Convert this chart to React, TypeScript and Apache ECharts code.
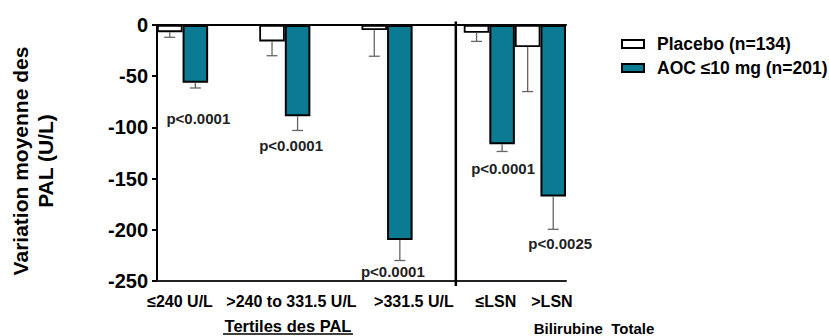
import React, { useEffect, useRef } from "react";
import * as echarts from "echarts";

// ---- data ----
const groups = ["≤240 U/L", ">240 to 331.5 U/L", ">331.5 U/L", "≤LSN", ">LSN"];
const placeboMean = [-7, -16, -5, -7.5, -21.5];
const placeboErrEnd = [-12, -30, -30.5, -16, -65];
const aocMean = [-56.5, -89, -210, -116.5, -167.5];
const aocErrEnd = [-61.5, -103, -230, -123.5, -199.5];
const pValues = ["p<0.0001", "p<0.0001", "p<0.0001", "p<0.0001", "p<0.0025"];
const seriesNames = ["Placebo (n=134)", "AOC ≤10 mg (n=201)"];
const yTicks = { min: -250, max: 0, interval: 50 };

// ---- layout (slot positions on a 16-slot category axis) ----
const SLOTS = 16;
const placeboSlot = [0, 4, 8, 12, 14];
const aocSlot = [1, 5, 9, 13, 15];
const labelPos = [0.9, 5.26, 10.05, 13.26, 15.45];
const dividerPos = 11.69;
const pOffset = [
  [3, 31],
  [-6.5, 15],
  [-7, 10.5],
  [1, 17],
  [7, 14],
];

const FONT = "'Liberation Sans', Arial, sans-serif";
const TEAL = "#0B7B94";

export default function App() {
  const ref = useRef<HTMLDivElement>(null);

  useEffect(() => {
    document.body.style.margin = "0";
    if (!ref.current) return;
    const chart = echarts.init(ref.current, undefined, { renderer: "svg" });

    const slotNames = Array.from({ length: SLOTS }, (_, i) => String(i));
    const placeboData: any[] = slotNames.map(() => "-");
    const aocData: any[] = slotNames.map(() => "-");
    placeboSlot.forEach((s, i) => (placeboData[s] = placeboMean[i]));
    aocSlot.forEach((s, i) => (aocData[s] = aocMean[i]));

    const errData: any[] = [];
    placeboSlot.forEach((s, i) => errData.push([s, placeboMean[i], placeboErrEnd[i], -1]));
    aocSlot.forEach((s, i) => errData.push([s, aocMean[i], aocErrEnd[i], i]));

    const option: any = {
      animation: false,
      grid: { left: 157, top: 25, width: 409, height: 256, containLabel: false },
      legend: {
        orient: "vertical",
        left: 616,
        top: 30,
        icon: "rect",
        itemWidth: 22,
        itemHeight: 8,
        itemGap: 6,
        data: seriesNames,
        textStyle: {
          fontFamily: FONT,
          fontWeight: "bold",
          fontSize: 17.5,
          color: "#000",
          padding: [0, 0, 0, 8],
        },
      },
      xAxis: [
        {
          type: "category",
          data: slotNames,
          position: "bottom",
          axisLine: { onZero: false, lineStyle: { color: "#222", width: 2 } },
          axisTick: { show: false },
          axisLabel: { show: false },
          splitLine: { show: false },
        },
        {
          type: "value",
          min: 0,
          max: SLOTS,
          position: "top",
          axisLine: { show: true, onZero: false, lineStyle: { color: "#000", width: 2 } },
          axisTick: { show: false },
          axisLabel: { show: false },
          splitLine: { show: false },
        },
        {
          type: "value",
          min: 0,
          max: SLOTS,
          position: "bottom",
          axisLine: { show: false, onZero: false },
          axisTick: { show: false },
          splitLine: { show: false },
          axisLabel: {
            customValues: labelPos,
            formatter: (v: number) => {
              const idx = labelPos.findIndex((p) => Math.abs(p - v) < 1e-6);
              return idx >= 0 ? groups[idx] : "";
            },
            margin: 12,
            fontFamily: FONT,
            fontWeight: "bold",
            fontSize: 16,
            color: "#000",
          },
        },
      ],
      yAxis: {
        type: "value",
        min: yTicks.min,
        max: yTicks.max,
        interval: yTicks.interval,
        axisLine: { show: true, onZero: false, lineStyle: { color: "#000", width: 2 } },
        axisTick: { show: true, length: 5, lineStyle: { color: "#000", width: 2 } },
        axisLabel: {
          margin: 9,
          fontFamily: FONT,
          fontWeight: "bold",
          fontSize: 20,
          color: "#000",
        },
        splitLine: { show: false },
      },
      series: [
        {
          name: seriesNames[0],
          type: "bar",
          xAxisIndex: 0,
          data: placeboData,
          barWidth: "100%",
          barGap: "-100%",
          itemStyle: { color: "#fff", borderColor: "#000", borderWidth: 1.8 },
        },
        {
          name: seriesNames[1],
          type: "bar",
          xAxisIndex: 0,
          data: aocData,
          barWidth: "100%",
          barGap: "-100%",
          itemStyle: { color: TEAL, borderColor: "#000", borderWidth: 2 },
        },
        {
          type: "custom",
          xAxisIndex: 0,
          silent: true,
          z: 5,
          clip: false,
          data: errData,
          renderItem: (params: any, api: any) => {
            const slot = api.value(0);
            const p0 = api.coord([slot, api.value(1)]);
            const p1 = api.coord([slot, api.value(2)]);
            const pi = api.value(3);
            const cap = 5.5;
            const children: any[] = [
              {
                type: "line",
                shape: { x1: p0[0], y1: p0[1], x2: p1[0], y2: p1[1] },
                style: { stroke: "#666", lineWidth: 1.3 },
              },
              {
                type: "line",
                shape: { x1: p1[0] - cap, y1: p1[1], x2: p1[0] + cap, y2: p1[1] },
                style: { stroke: "#666", lineWidth: 1.3 },
              },
            ];
            if (pi >= 0) {
              children.push({
                type: "text",
                x: p1[0] + pOffset[pi][0],
                y: p1[1] + pOffset[pi][1],
                style: {
                  text: pValues[pi],
                  fontFamily: FONT,
                  fontWeight: "bold",
                  fontSize: 15,
                  fill: "#222",
                  align: "center",
                  verticalAlign: "middle",
                },
              });
            }
            return { type: "group", children };
          },
        },
        {
          type: "custom",
          xAxisIndex: 1,
          silent: true,
          z: 6,
          clip: false,
          data: [[dividerPos]],
          renderItem: (params: any, api: any) => {
            const a = api.coord([api.value(0), 3.5]);
            const b = api.coord([api.value(0), -255]);
            return {
              type: "line",
              shape: { x1: a[0], y1: a[1], x2: b[0], y2: b[1] },
              style: { stroke: "#000", lineWidth: 2.5 },
            };
          },
        },
      ],
      graphic: [
        {
          type: "text",
          x: 33,
          y: 161,
          rotation: Math.PI / 2,
          style: {
            text: "Variation moyenne des\nPAL (U/L)",
            fontFamily: FONT,
            fontWeight: "bold",
            fontSize: 21,
            lineHeight: 25,
            fill: "#000",
            align: "center",
            verticalAlign: "middle",
          },
        },
        {
          type: "text",
          x: 288,
          y: 326,
          style: {
            text: "Tertiles des PAL",
            fontFamily: FONT,
            fontWeight: "bold",
            fontSize: 16.5,
            fill: "#000",
            align: "center",
            verticalAlign: "middle",
          },
        },
        {
          type: "line",
          shape: { x1: 223, y1: 334, x2: 353, y2: 334 },
          style: { stroke: "#000", lineWidth: 1.3 },
        },
        {
          type: "text",
          x: 594,
          y: 328,
          style: {
            text: "Bilirubine  Totale",
            fontFamily: FONT,
            fontWeight: "bold",
            fontSize: 15,
            fill: "#000",
            align: "center",
            verticalAlign: "middle",
          },
        },
      ],
    };

    chart.setOption(option);
    return () => chart.dispose();
  }, []);

  return <div ref={ref} style={{ width: 829, height: 336 }} />;
}
